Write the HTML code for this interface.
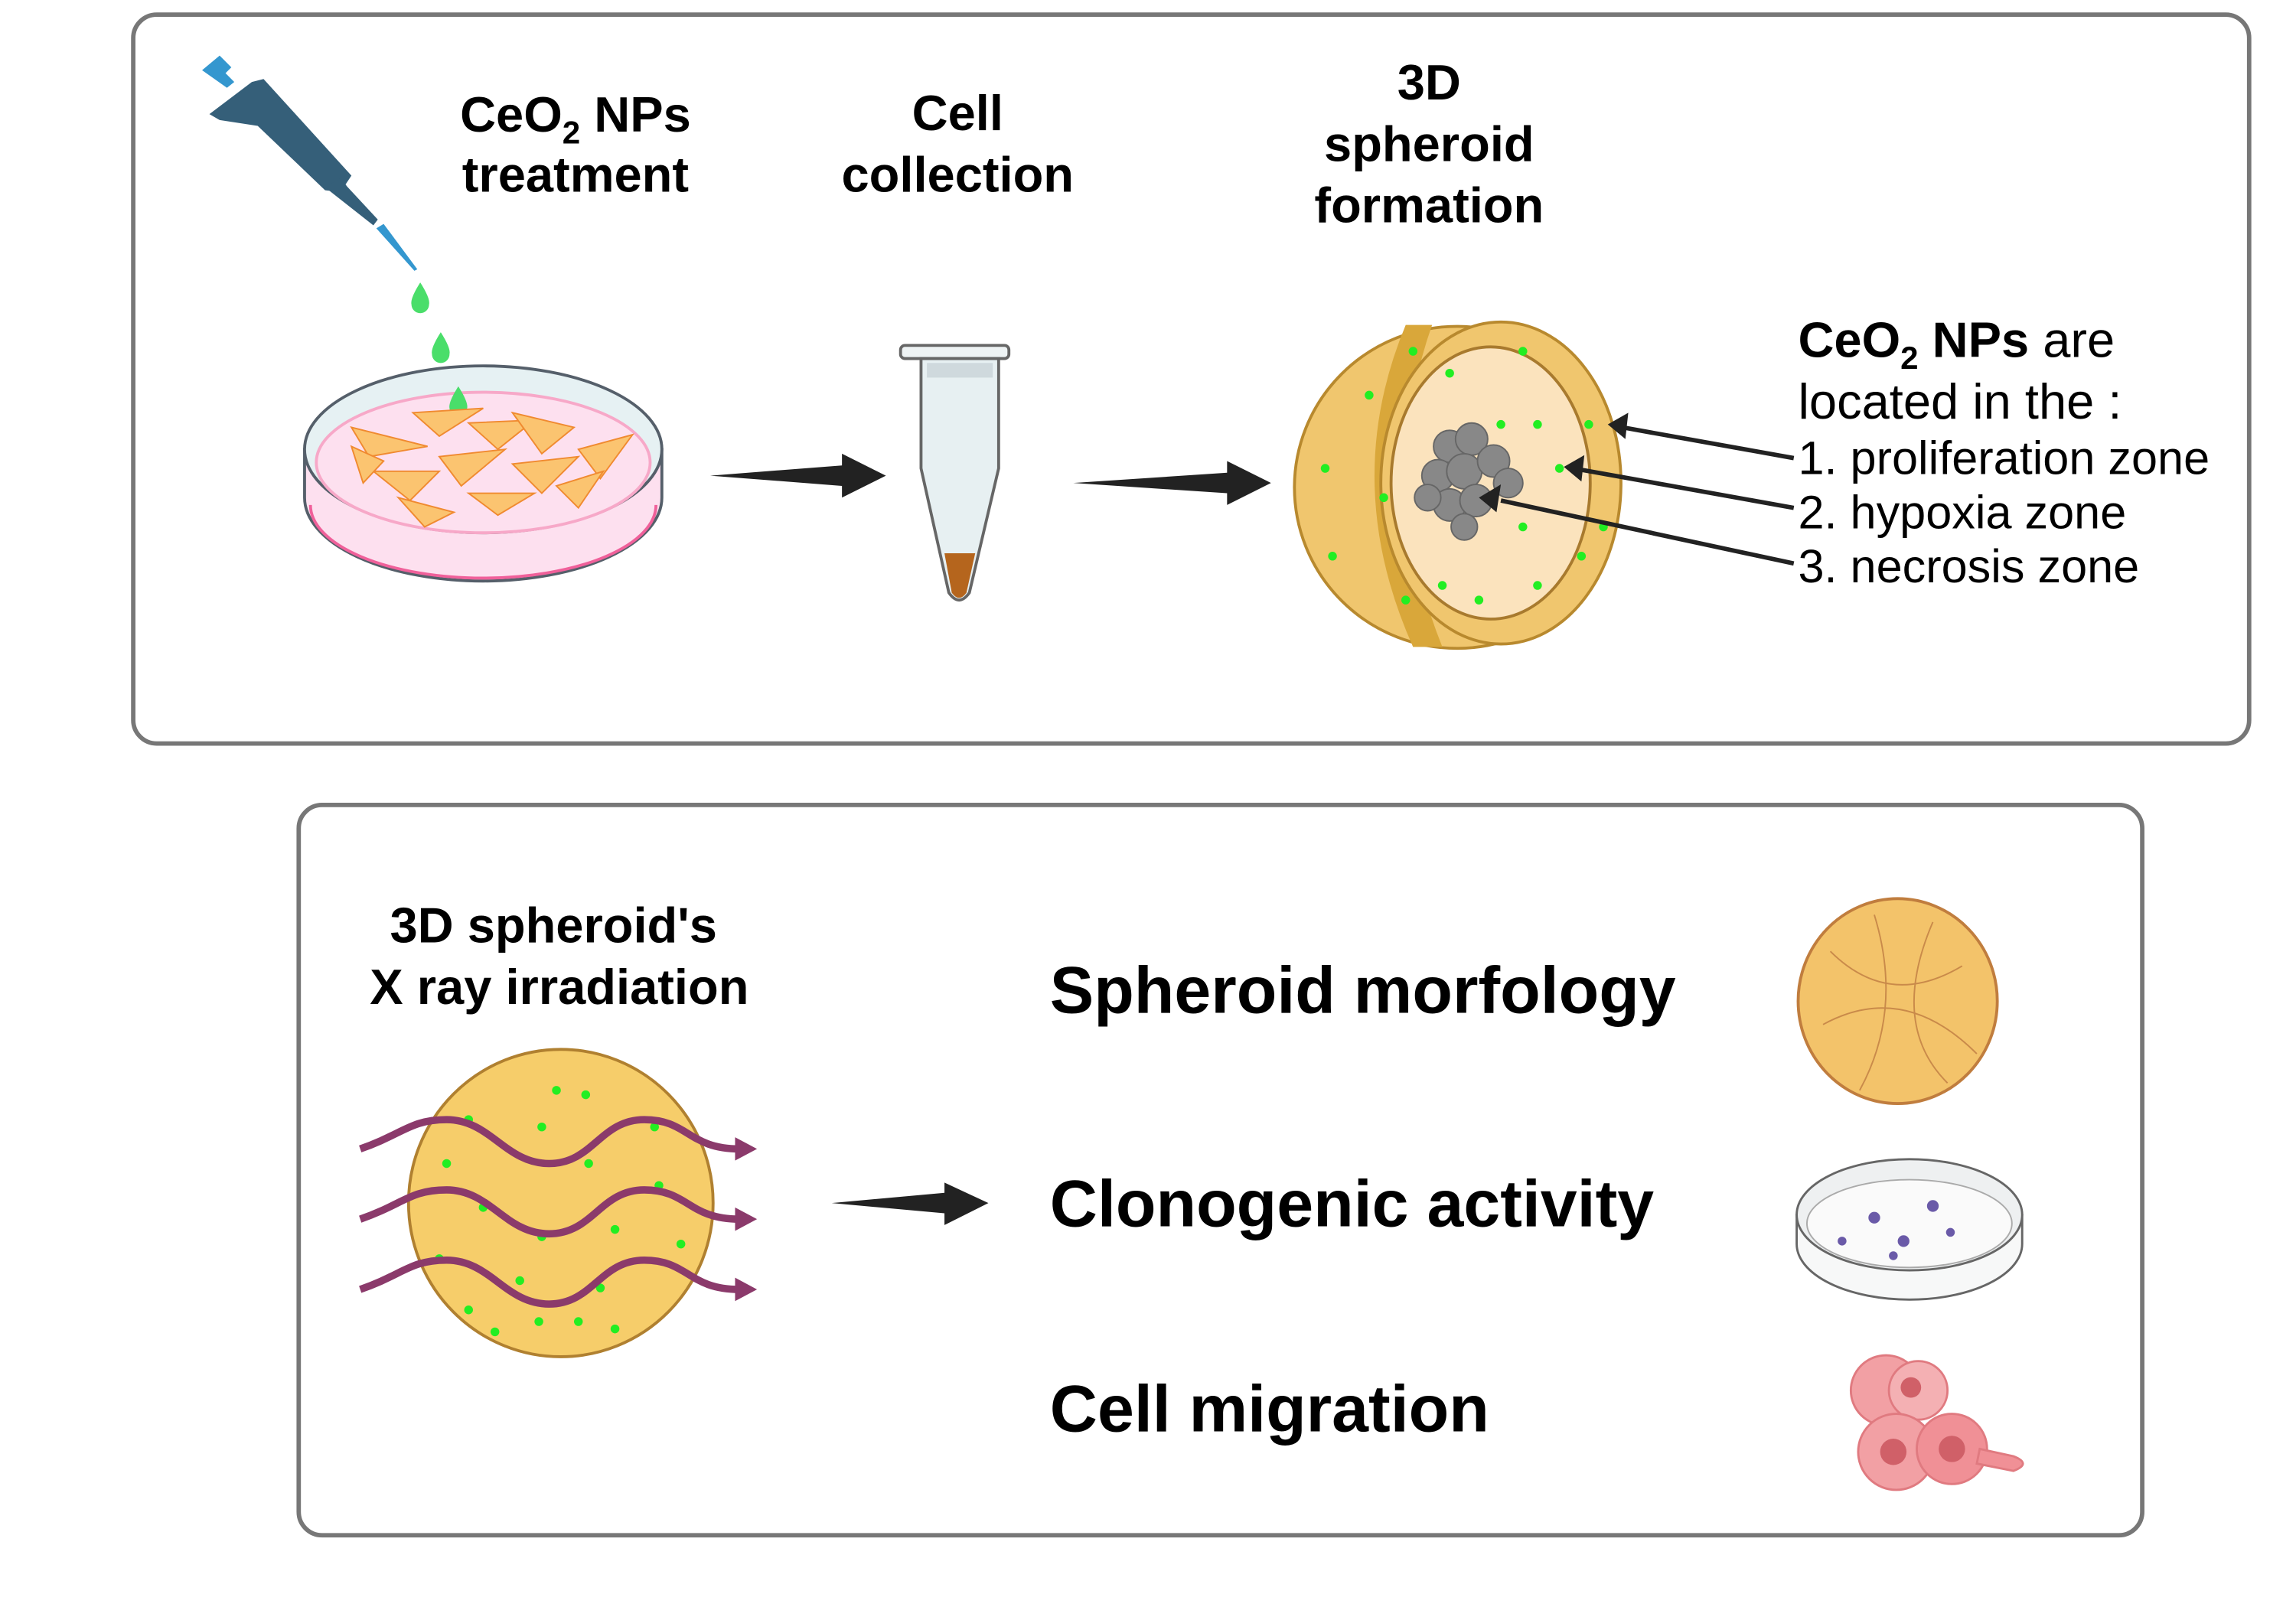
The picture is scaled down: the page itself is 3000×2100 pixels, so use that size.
<!DOCTYPE html>
<html><head><meta charset="utf-8"><style>
html,body{margin:0;padding:0;background:#fff;}
svg{display:block;}
text{font-family:"Liberation Sans",sans-serif;fill:#000;}
.b{font-weight:bold;}
</style></head><body>
<svg width="3000" height="2100" viewBox="0 0 1568 1098" preserveAspectRatio="none" xmlns="http://www.w3.org/2000/svg">
<rect x="91" y="10" width="1445" height="498" rx="16" fill="#fff" stroke="#777" stroke-width="3"/>
<rect x="204" y="550" width="1259" height="499" rx="16" fill="#fff" stroke="#777" stroke-width="3"/>

<!-- pipette -->
<g>
<path d="M138,48 L150,38 L158,46 L154,50 L160,56 L155,60 Z" fill="#3497cf"/>
<path d="M143,78 L172,56 L180,54 L240,120 L236,126 L240,132 L222,130 L176,86 L150,82 Z" fill="#355f79"/>
<path d="M222,128 L232,122 L258,150 L255,154 Z" fill="#355f79"/>
<path d="M257,156 L262,153 L285,184 L283,185 Z" fill="#3497cf"/>
</g>
<g fill="#4ade6a">
<path d="M287,193 Q280,204 281,208 A6,6 0 0 0 293,208 Q294,204 287,193Z"/>
<path d="M301,227 Q294,238 295,242 A6,6 0 0 0 307,242 Q308,238 301,227Z"/>
</g>
<!-- petri dish -->
<path d="M208,307 L208,340 A122,57 0 0 0 452,340 L452,307 Z" fill="#fde0ef" stroke="#555f6a" stroke-width="2"/>
<path d="M212,345 A118,50 0 0 0 448,345" fill="none" stroke="#f0609a" stroke-width="2"/>
<ellipse cx="330" cy="307" rx="122" ry="57" fill="#e6f1f3" stroke="#555f6a" stroke-width="2"/>
<ellipse cx="330" cy="316" rx="114" ry="48" fill="#fde0ef" stroke="#f7a8c8" stroke-width="2"/>
<g fill="#4ade6a"><path d="M313,264 Q306,275 307,279 A6,6 0 0 0 319,279 Q320,275 313,264Z"/></g>
<g fill="#fbc470" stroke="#f08a30" stroke-width="1">
<path d="M240,292 L292,305 L252,312Z"/><path d="M282,282 L330,279 L300,298Z"/><path d="M320,289 L365,287 L340,307Z"/>
<path d="M350,282 L392,292 L370,310Z"/><path d="M300,312 L345,307 L315,332Z"/><path d="M350,317 L395,312 L370,337Z"/>
<path d="M255,322 L300,322 L280,342Z"/><path d="M395,307 L432,297 L410,327Z"/><path d="M320,337 L365,337 L340,352Z"/>
<path d="M272,340 L310,350 L290,360Z"/><path d="M380,332 L412,322 L395,347Z"/><path d="M240,305 L262,315 L248,330Z"/>
</g>
<!-- arrows top -->
<path d="M485,325 L575,318 L575,310 L605,325 L575,340 L575,332 Z" fill="#222"/>
<path d="M733,330 L838,323 L838,315 L868,330 L838,345 L838,337 Z" fill="#222"/>
<!-- tube -->
<rect x="615" y="236" width="74" height="9" rx="3" fill="#eef3f4" stroke="#666" stroke-width="2"/>
<path d="M629,245 L682,245 L682,320 L662,405 Q655,415 648,405 L629,320 Z" fill="#e7f0f2" stroke="#666" stroke-width="2"/>
<path d="M645,378 L666,378 L660,405 Q655,412 650,405 Z" fill="#b5651d"/>
<rect x="633" y="248" width="45" height="10" fill="#cfd9dd"/>
<!-- spheroid top -->
<ellipse cx="995" cy="333" rx="111" ry="110" fill="#f0c66e" stroke="#b8892e" stroke-width="2"/>
<path d="M960,222 Q915,330 965,442 L985,442 Q940,330 978,222Z" fill="#d9a73a"/>
<ellipse cx="1025" cy="330" rx="82" ry="110" fill="#f0c66e" stroke="#b8892e" stroke-width="2"/>
<ellipse cx="1018" cy="330" rx="68" ry="93" fill="#fbe3bd" stroke="#a87a2e" stroke-width="2"/>
<g fill="#888" stroke="#666">
<circle cx="990" cy="305" r="11"/><circle cx="1005" cy="300" r="11"/><circle cx="982" cy="325" r="11"/><circle cx="1000" cy="322" r="12"/>
<circle cx="1020" cy="315" r="11"/><circle cx="1030" cy="330" r="10"/><circle cx="990" cy="345" r="11"/><circle cx="1008" cy="342" r="11"/><circle cx="975" cy="340" r="9"/><circle cx="1000" cy="360" r="9"/>
</g>
<g fill="#22ee22">
<circle cx="905" cy="320" r="3"/><circle cx="935" cy="270" r="3"/><circle cx="945" cy="340" r="3"/><circle cx="960" cy="410" r="3"/><circle cx="990" cy="255" r="3"/>
<circle cx="1040" cy="240" r="3"/><circle cx="1050" cy="290" r="3"/><circle cx="1065" cy="320" r="3"/><circle cx="1085" cy="290" r="3"/><circle cx="1080" cy="380" r="3"/>
<circle cx="1050" cy="400" r="3"/><circle cx="1010" cy="410" r="3"/><circle cx="985" cy="400" r="3"/><circle cx="1025" cy="290" r="3"/><circle cx="1040" cy="360" r="3"/>
<circle cx="910" cy="380" r="3"/><circle cx="965" cy="240" r="3"/><circle cx="1095" cy="360" r="3"/>
</g>
<!-- label arrows -->
<g stroke="#222" stroke-width="3">
<line x1="1225" y1="313" x2="1108" y2="292"/><line x1="1225" y1="347" x2="1080" y2="321"/><line x1="1225" y1="385" x2="1025" y2="342"/>
</g>
<g fill="#222">
<path d="M1098,290 L1112,282 L1110,300Z"/><path d="M1068,319 L1082,311 L1080,329Z"/><path d="M1010,340 L1025,331 L1022,350Z"/>
</g>
<!-- top text -->
<g class="b" font-size="34" text-anchor="middle">
<text x="393" y="90" class="b">CeO<tspan font-size="22" dy="8">2</tspan><tspan dy="-8"> NPs</tspan></text>
<text x="393" y="131" class="b">treatment</text>
<text x="654" y="89" class="b">Cell</text>
<text x="654" y="131" class="b">collection</text>
<text x="976" y="68" class="b">3D</text>
<text x="976" y="110" class="b">spheroid</text>
<text x="976" y="152" class="b">formation</text>
</g>
<text x="1228" y="244" font-size="34"><tspan class="b">CeO</tspan><tspan class="b" font-size="22" dy="8">2</tspan><tspan class="b" dy="-8"> NPs</tspan> are</text>
<text x="1228" y="286" font-size="34">located in the :</text>
<text x="1228" y="324" font-size="32">1. proliferation zone</text>
<text x="1228" y="361" font-size="32">2. hypoxia zone</text>
<text x="1228" y="398" font-size="32">3. necrosis zone</text>

<!-- bottom -->
<text x="378" y="644" font-size="34" class="b" text-anchor="middle">3D spheroid's</text>
<text x="382" y="686" font-size="34" class="b" text-anchor="middle">X ray irradiation</text>
<ellipse cx="383" cy="822" rx="104" ry="105" fill="#f6cd6a" stroke="#b08030" stroke-width="2"/>
<g fill="#22ee22">
<circle cx="380" cy="745" r="3"/><circle cx="400" cy="748" r="3"/><circle cx="320" cy="765" r="3"/><circle cx="370" cy="770" r="3"/><circle cx="447" cy="770" r="3"/>
<circle cx="305" cy="795" r="3"/><circle cx="402" cy="795" r="3"/><circle cx="450" cy="810" r="3"/><circle cx="330" cy="825" r="3"/><circle cx="370" cy="845" r="3"/>
<circle cx="420" cy="840" r="3"/><circle cx="465" cy="850" r="3"/><circle cx="300" cy="860" r="3"/><circle cx="355" cy="875" r="3"/><circle cx="410" cy="880" r="3"/>
<circle cx="320" cy="895" r="3"/><circle cx="368" cy="903" r="3"/><circle cx="395" cy="903" r="3"/><circle cx="338" cy="910" r="3"/><circle cx="420" cy="908" r="3"/>
</g>
<g fill="none" stroke="#8b3a6b" stroke-width="5">
<path d="M246,785 C275,775 280,765 305,765 C335,765 345,795 375,795 C405,795 410,765 440,765 C470,765 470,785 505,785"/>
<path d="M246,833 C275,823 280,813 305,813 C335,813 345,843 375,843 C405,843 410,813 440,813 C470,813 470,833 505,833"/>
<path d="M246,881 C275,871 280,861 305,861 C335,861 345,891 375,891 C405,891 410,861 440,861 C470,861 470,881 505,881"/>
</g>
<g fill="#8b3a6b"><path d="M502,777 L517,785 L502,793Z"/><path d="M502,825 L517,833 L502,841Z"/><path d="M502,873 L517,881 L502,889Z"/></g>
<path d="M568,822 L645,815 L645,808 L675,822 L645,837 L645,829 Z" fill="#222"/>

<text x="717" y="692" font-size="45" class="b">Spheroid morfology</text>
<text x="717" y="838" font-size="45" class="b">Clonogenic activity</text>
<text x="717" y="978" font-size="45" class="b">Cell migration</text>

<ellipse cx="1296" cy="684" rx="68" ry="70" fill="#f3c36a" stroke="#c07d3e" stroke-width="2"/>
<g fill="none" stroke="#c98a4a" stroke-width="1"><path d="M1250,650 Q1290,690 1340,660"/><path d="M1245,700 Q1300,670 1350,720"/><path d="M1280,625 Q1300,690 1270,745"/><path d="M1320,630 Q1290,700 1330,740"/></g>
<path d="M1227,830 L1227,850 A77,38 0 0 0 1381,850 L1381,830Z" fill="#f7f8f8" stroke="#666" stroke-width="1.5"/>
<ellipse cx="1304" cy="830" rx="77" ry="38" fill="#eef0f1" stroke="#666" stroke-width="1.5"/>
<ellipse cx="1304" cy="836" rx="70" ry="30" fill="#fafafa" stroke="#aaa"/>
<g fill="#6a5aa8"><circle cx="1280" cy="832" r="4"/><circle cx="1320" cy="824" r="4"/><circle cx="1258" cy="848" r="3"/><circle cx="1300" cy="848" r="4"/><circle cx="1332" cy="842" r="3"/><circle cx="1293" cy="858" r="3"/></g>
<g stroke="#e07a80" stroke-width="1.5">
<circle cx="1288" cy="950" r="24" fill="#f2a0a4"/><circle cx="1310" cy="950" r="20" fill="#f4b0b3"/>
<circle cx="1295" cy="992" r="26" fill="#f2a0a4"/><circle cx="1333" cy="990" r="24" fill="#f09096"/>
<path d="M1352,990 L1375,995 Q1388,1000 1375,1005 L1350,1000Z" fill="#f09096"/>
</g>
<g fill="#d06068"><circle cx="1293" cy="992" r="9"/><circle cx="1333" cy="990" r="9"/><circle cx="1305" cy="948" r="7"/></g>
</svg>
</body></html>
